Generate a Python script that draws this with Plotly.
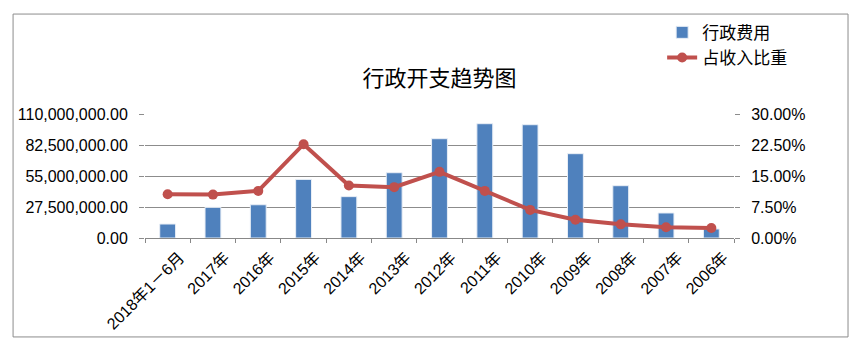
import plotly.graph_objects as go

categories = ["2018年1－6月", "2017年", "2016年", "2015年", "2014年", "2013年", "2012年",
              "2011年", "2010年", "2009年", "2008年", "2007年", "2006年"]
admin_cost = [12.4e6, 27.2e6, 29.5e6, 52.0e6, 36.7e6, 57.9e6, 88.1e6,
              101.4e6, 100.5e6, 74.8e6, 46.4e6, 22.2e6, 8.0e6]
ratio = [0.106, 0.105, 0.114, 0.227, 0.127, 0.123, 0.160,
         0.114, 0.068, 0.044, 0.033, 0.026, 0.024]
left_ticks = [0, 27.5e6, 55e6, 82.5e6, 110e6]
right_ticks = [0, 0.075, 0.15, 0.225, 0.30]

font = "Liberation Sans, Arial, Noto Sans CJK SC, sans-serif"

fig = go.Figure()
fig.add_trace(go.Bar(x=categories, y=admin_cost, name="行政费用",
                     marker=dict(color="#4F81BD", line=dict(color="#E8EEF6", width=1))))
fig.add_trace(go.Scatter(x=categories, y=ratio, name="占收入比重", yaxis="y2",
                         mode="lines+markers",
                         line=dict(color="#C0504D", width=4),
                         marker=dict(color="#C0504D", size=10)))

fig.update_layout(
    width=860, height=353,
    margin=dict(l=145, r=126, t=114, b=115),
    paper_bgcolor="white", plot_bgcolor="white",
    font=dict(family=font, size=16, color="#000000"),
    title=dict(text="行政开支趋势图", x=0.5, xref="paper", xanchor="center",
               y=0.779, yanchor="middle", font=dict(size=22, family="Noto Sans CJK SC")),
    bargap=0.65,
    showlegend=True,
    legend=dict(x=0.878, y=1.80, xanchor="left", yanchor="top",
                font=dict(size=17, family="Noto Sans CJK SC"),
                bgcolor="rgba(0,0,0,0)", tracegroupgap=0, itemwidth=30),
    xaxis=dict(type="category", range=[-0.5, 12.5], tickangle=-45, ticks="outside",
               tickson="boundaries", ticklen=4, tickcolor="#888888", showline=True,
               linecolor="#888888", showgrid=False, tickfont=dict(size=16),
               ticklabelshift=12, ticklabelstandoff=3),
    yaxis=dict(range=[0, 110e6], tickvals=left_ticks,
               ticktext=[f"{v:,.2f}" for v in left_ticks],
               showgrid=True, gridcolor="#8C8C8C", gridwidth=1,
               ticks="outside", ticklen=5, tickcolor="#8C8C8C",
               zeroline=False, showline=False, tickfont=dict(size=16),
               ticklabelstandoff=8),
    yaxis2=dict(range=[0, 0.30], tickvals=right_ticks,
                ticktext=[f"{v*100:.2f}%" for v in right_ticks],
                overlaying="y", side="right", showgrid=False, zeroline=False,
                ticks="outside", ticklen=5, tickcolor="#8C8C8C",
                tickfont=dict(size=16), ticklabelstandoff=8),
    shapes=[dict(type="rect", xref="paper", yref="paper",
                 x0=-0.224, x1=1.1936, y0=-0.798, y1=1.806,
                 line=dict(color="#8C8C8C", width=1), fillcolor="rgba(0,0,0,0)", layer="below")],
)

fig.write_html("out.html")
